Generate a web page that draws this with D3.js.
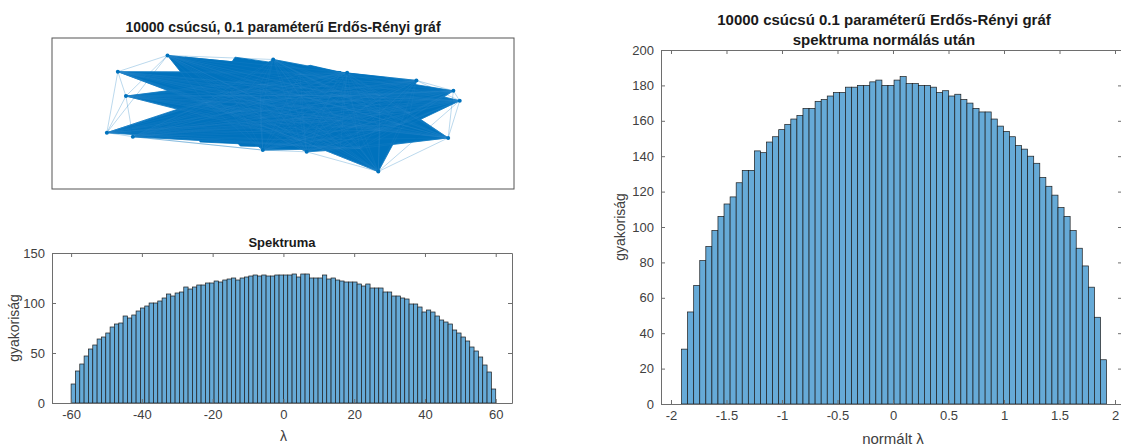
<!DOCTYPE html>
<html>
<head>
<meta charset="utf-8">
<script src="https://cdn.jsdelivr.net/npm/d3@7"></script>
<style>
	body { margin: 0; background: #fff; }
	svg text { font-family: "Liberation Sans", Arial, Helvetica, sans-serif; }
</style>
</head>
<body>
<svg id="fig" width="1121" height="448"></svg>
<script>
// spektrum (bal alsó) - 98 bin -60..60
var spectrumCounts = [19, 32, 39, 47, 54, 58, 64, 66, 70, 76,
	79, 80, 87, 85, 88, 92, 95, 97, 100, 100,
	102, 105, 109, 107, 110, 111, 116, 114, 116, 118,
	118, 120, 120, 122, 121, 123, 124, 125, 123, 125,
	126, 127, 128, 127, 128, 127, 127, 128, 128, 128,
	128, 129, 126, 129, 129, 125, 125, 125, 128, 124,
	125, 123, 122, 121, 121, 121, 119, 117, 119, 115,
	115, 115, 111, 111, 107, 107, 105, 104, 99, 99,
	96, 91, 93, 91, 87, 83, 81, 79, 73, 70,
	66, 62, 56, 52, 46, 38, 31, 14];
var spectrumBinStart = -60;
var spectrumBinWidth = 120 / 98;
var spectrumXTicks = [-60, -40, -20, 0, 20, 40, 60];
var spectrumYTicks = [0, 50, 100, 150];

// normalt spektrum (jobb) - 70 bin
var normCounts = [31, 52, 67, 81, 89, 98, 106, 113, 117, 125,
	132, 132, 143, 142, 148, 151, 155, 158, 161, 163,
	167, 167, 171, 172, 174, 176, 176, 179, 179, 180,
	180, 182, 183, 180, 180, 183, 185, 181, 181, 180,
	180, 179, 176, 177, 174, 175, 172, 170, 167, 165,
	165, 161, 157, 154, 151, 146, 144, 140, 136, 128,
	123, 118, 111, 106, 98, 88, 78, 66, 49, 25];
var normBinStart = -1.905;
var normBinWidth = 0.0547;
var normXTicks = [-2, -1.5, -1, -0.5, 0, 0.5, 1, 1.5, 2];
var normYTicks = [0, 20, 40, 60, 80, 100, 120, 140, 160, 180, 200];

// graf elrendezes
// kulso (tuskes) csucsok
var outerX = [-2.00, -0.17, 1.11, 2.31, 2.95, 3.06, 2.86, 1.65, 0.41, -0.35, -2.60, -3.05, -2.72, -2.86];
var outerY = [1.00, 0.93, 0.70, 0.57, 0.39, 0.22, -0.42, -1.00, -0.66, -0.63, -0.40, -0.33, 0.30, 0.72];
// suru mag
var coreX = [-1.35, -0.92, -0.92, -0.40, -0.40, -0.40, 0.29, 0.29, 0.29, 0.29,
	0.99, 0.99, 0.99, 0.99, 1.68, 1.68, 1.68, 1.33, 2.20, 2.03];
var coreY = [0.19, 0.37, 0.02, 0.50, 0.23, -0.08, 0.68, 0.31, -0.08, -0.46,
	0.71, 0.31, -0.12, -0.60, 0.31, 0.02, -0.29, -0.60, 0.02, -0.19];
// a mag szelen levo csucsok (csak a maggal osszekotve)
var rimX = [-1.70, -0.83, 0.47, 1.77, -1.44, -0.74];
var rimY = [0.97, 0.97, 0.83, 0.62, -0.49, -0.56];
// ritka elek a kulso csucsok kozott
var outerLinks = [[13, 0], [13, 12], [13, 11], [12, 11], [12, 10], [11, 10], [12, 0], [0, 1], [1, 2], [2, 3],
	[3, 4], [4, 5], [5, 6], [4, 6], [3, 5], [6, 7], [7, 8], [8, 9], [9, 10], [7, 5], [11, 0], [10, 9]];

var axisColor = "#6e6e6e";
var textColor = "#404040";
var edgeBlue = "#0072BD";
var barFill = "#66AAD7";

var svg = d3.select("#fig");

function fmt(d) {
	return String(d);
}

function drawBoxAxes(g, x, y, xTicks, yTicks, w, h) {
	g.append("g")
		.attr("transform", "translate(0," + h + ")")
		.call(d3.axisBottom(x).tickValues(xTicks).tickSizeInner(-4).tickSizeOuter(0).tickPadding(7).tickFormat(fmt));
	g.append("g")
		.call(d3.axisTop(x).tickValues(xTicks).tickSizeInner(-4).tickSizeOuter(0).tickFormat(""));
	g.append("g")
		.call(d3.axisLeft(y).tickValues(yTicks).tickSizeInner(-4).tickSizeOuter(0).tickPadding(7).tickFormat(fmt));
	g.append("g")
		.attr("transform", "translate(" + w + ",0)")
		.call(d3.axisRight(y).tickValues(yTicks).tickSizeInner(-4).tickSizeOuter(0).tickFormat(""));

	g.selectAll(".domain, .tick line").attr("stroke", axisColor);
	g.selectAll(".tick text")
		.attr("fill", textColor)
		.style("font-size", "13px");
}

function drawHistogram(g, x, y, counts, start, width) {
	g.selectAll("rect.bar")
		.data(counts)
		.enter().append("rect")
		.attr("class", "bar")
		.attr("x", function(d, i) { return x(start + i * width); })
		.attr("width", function(d, i) { return x(start + (i + 1) * width) - x(start + i * width); })
		.attr("y", function(d) { return y(d); })
		.attr("height", function(d) { return y(0) - y(d); })
		.attr("fill", barFill)
		.attr("stroke", "#1c1c1c")
		.attr("stroke-width", 0.7);
}

/***************** GRAF *****************/
(function() {
	var left = 52, top = 38, w = 462, h = 151;
	var x = d3.scaleLinear().domain([-4, 4]).range([0, w]);
	var y = d3.scaleLinear().domain([-1.3, 1.3]).range([h, 0]);
	var g = svg.append("g").attr("transform", "translate(" + left + "," + top + ")");

	var outer = outerX.map(function(v, i) { return { x: v, y: outerY[i] }; });
	var core = coreX.map(function(v, i) { return { x: v, y: coreY[i] }; });
	var rim = rimX.map(function(v, i) { return { x: v, y: rimY[i] }; });

	var px = function(d) { return [x(d.x), y(d.y)]; };
	var corePts = core.map(px);

	// a sok el egybefolyo "legyezoi": minden kulso csucs + a mag burka
	var fans = [corePts];
	outer.concat(rim).forEach(function(o) {
		fans.push(d3.polygonHull(corePts.concat([px(o)])));
	});

	g.selectAll("path.fan")
		.data(fans)
		.enter().append("path")
		.attr("class", "fan")
		.attr("d", function(d) { return "M" + d3.polygonHull(d).join("L") + "Z"; })
		.attr("fill", edgeBlue)
		.attr("stroke", edgeBlue)
		.attr("stroke-width", 0.8)
		.attr("stroke-linejoin", "round");

	var links = [];
	core.forEach(function(c, i) {
		outer.forEach(function(o) { links.push([o, c]); });
	});
	outerLinks.forEach(function(p) {
		links.push([outer[p[0]], outer[p[1]], true]);
	});

	g.selectAll("line.edge")
		.data(links)
		.enter().append("line")
		.attr("class", "edge")
		.attr("x1", function(d) { return x(d[0].x); })
		.attr("y1", function(d) { return y(d[0].y); })
		.attr("x2", function(d) { return x(d[1].x); })
		.attr("y2", function(d) { return y(d[1].y); })
		.attr("stroke", function(d) { return d[2] ? edgeBlue : "#2a86c8"; })
		.attr("stroke-opacity", function(d) { return d[2] ? 0.45 : 0.35; })
		.attr("stroke-width", 0.6);

	g.selectAll("circle.node")
		.data(outer)
		.enter().append("circle")
		.attr("class", "node")
		.attr("cx", function(d) { return x(d.x); })
		.attr("cy", function(d) { return y(d.y); })
		.attr("r", 2)
		.attr("fill", edgeBlue);

	g.append("rect")
		.attr("width", w)
		.attr("height", h)
		.attr("fill", "none")
		.attr("stroke", "#555");

	svg.append("text")
		.attr("x", left + w / 2)
		.attr("y", 32)
		.attr("text-anchor", "middle")
		.style("font-size", "14px")
		.style("font-weight", "bold")
		.attr("fill", "#1a1a1a")
		.text("10000 csúcsú, 0.1 paraméterű Erdős-Rényi gráf");
})();

/***************** SPEKTRUMA *****************/
(function() {
	var left = 52, top = 253, w = 460, h = 150;
	var x = d3.scaleLinear().domain([-65.4, 64.6]).range([0, w]);
	var y = d3.scaleLinear().domain([0, 150]).range([h, 0]);
	var g = svg.append("g").attr("transform", "translate(" + left + "," + top + ")");

	drawHistogram(g, x, y, spectrumCounts, spectrumBinStart, spectrumBinWidth);
	drawBoxAxes(g, x, y, spectrumXTicks, spectrumYTicks, w, h);

	svg.append("text")
		.attr("x", left + w / 2)
		.attr("y", 247)
		.attr("text-anchor", "middle")
		.style("font-size", "13px")
		.style("font-weight", "bold")
		.attr("fill", "#1a1a1a")
		.text("Spektruma");

	svg.append("text")
		.attr("transform", "translate(19," + (top + h / 2) + ") rotate(-90)")
		.attr("text-anchor", "middle")
		.style("font-size", "14px")
		.attr("fill", textColor)
		.text("gyakoriság");

	svg.append("text")
		.attr("x", left + x(0))
		.attr("y", 441)
		.attr("text-anchor", "middle")
		.style("font-size", "14px")
		.attr("fill", textColor)
		.text("λ");
})();

/***************** NORMALT SPEKTRUM *****************/
(function() {
	var left = 661, top = 50, w = 461, h = 354;
	var x = d3.scaleLinear().domain([-2.09, 2.063]).range([0, w]);
	var y = d3.scaleLinear().domain([0, 200]).range([h, 0]);
	var g = svg.append("g").attr("transform", "translate(" + left + "," + top + ")");

	drawHistogram(g, x, y, normCounts, normBinStart, normBinWidth);
	drawBoxAxes(g, x, y, normXTicks, normYTicks, w, h);

	var title = svg.append("text")
		.attr("text-anchor", "middle")
		.style("font-size", "15px")
		.style("font-weight", "bold")
		.attr("fill", "#1a1a1a");
	title.append("tspan").attr("x", 884).attr("y", 25).text("10000 csúcsú 0.1 paraméterű Erdős-Rényi gráf");
	title.append("tspan").attr("x", 884).attr("y", 45).text("spektruma normálás után");

	svg.append("text")
		.attr("transform", "translate(625," + (top + h / 2) + ") rotate(-90)")
		.attr("text-anchor", "middle")
		.style("font-size", "14px")
		.attr("fill", textColor)
		.text("gyakoriság");

	svg.append("text")
		.attr("x", left + x(0))
		.attr("y", 444)
		.attr("text-anchor", "middle")
		.style("font-size", "15px")
		.attr("fill", textColor)
		.text("normált λ");
})();
</script>
</body>
</html>
